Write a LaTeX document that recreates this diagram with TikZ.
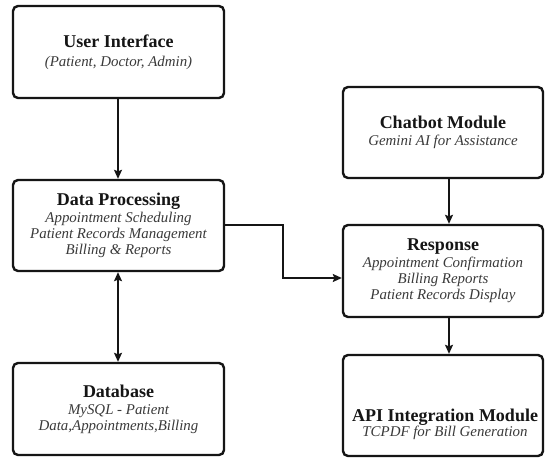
\documentclass[tikz,border=0pt]{standalone}
\usepackage{fontspec}
\setmainfont{Liberation Serif}
\usetikzlibrary{arrows.meta}
\definecolor{ink}{HTML}{151515}
\definecolor{subink}{HTML}{3A3A3A}
\newcommand{\ttl}{\fontsize{18}{20}\selectfont\bfseries\color{ink}}
\newcommand{\subt}{\fontsize{14.9}{16}\selectfont\itshape\color{subink}}
\tikzset{
  box/.style={draw=ink, line width=2.4pt, rounded corners=5pt, fill=white,
    align=center, inner sep=0pt, font={\fontsize{14.9}{16}\selectfont}},
  lbox/.style={box, minimum width=211pt, minimum height=92pt},
  rbox/.style={box, minimum width=200pt, minimum height=92pt},
  conn/.style={draw=ink, line width=1.3pt, -{Stealth[length=9pt,width=8pt,inset=1.5pt]}},
  connboth/.style={draw=ink, line width=1.3pt, {Stealth[length=9pt,width=8pt,inset=1.5pt]}-{Stealth[length=9pt,width=8pt,inset=1.5pt]}}
}
\begin{document}
\begin{tikzpicture}[x=1pt,y=-1pt]
\useasboundingbox (0,0) rectangle (545,457);
\fill[white] (0,0) rectangle (545,457);

% left column
\node[lbox] (ui) at (118.5,52) {{\ttl User Interface}\\[3pt]{\subt (Patient, Doctor, Admin)}};
\node[lbox, minimum height=91pt] (dp) at (118.5,225.5) {{\ttl Data Processing}\\[1pt]{\subt Appointment Scheduling}\\{\subt Patient Records Management}\\{\subt Billing \& Reports}};
\node[lbox] (db) at (118.5,409) {{\ttl Database}\\[1pt]{\subt MySQL - Patient}\\{\subt Data,Appointments,Billing}};

% right column
\node[rbox, minimum height=91pt] (chat) at (443,132.5) {{\ttl Chatbot Module}\\[1pt]{\subt Gemini AI for Assistance}};
\node[rbox] (resp) at (443,271) {{\ttl Response}\\[1pt]{\subt Appointment Confirmation}\\{\subt Billing Reports}\\{\subt Patient Records Display}};
\node[rbox, minimum height=101pt] (api) at (443,405.5) {};
\node[align=center, inner sep=0pt, font={\fontsize{14.9}{16}\selectfont}] (apitext) at (445,424) {{\ttl API Integration Module}\\[-1pt]{\subt TCPDF for Bill Generation}};

% connectors
\draw[conn] (ui.south -| 118,0) -- (dp.north -| 118,0);
\draw[connboth] (dp.south -| 118,0) -- (db.north -| 118,0);
\draw[conn] (chat.south -| 449,0) -- (resp.north -| 449,0);
\draw[conn] (resp.south -| 449,0) -- (api.north -| 449,0);
\coordinate (bendA) at (283,225);
\coordinate (bendB) at (283,278);
\draw[conn] (dp.east |- bendA) -- (bendA) -- (bendB) -- (resp.west |- bendB);
\end{tikzpicture}
\end{document}
